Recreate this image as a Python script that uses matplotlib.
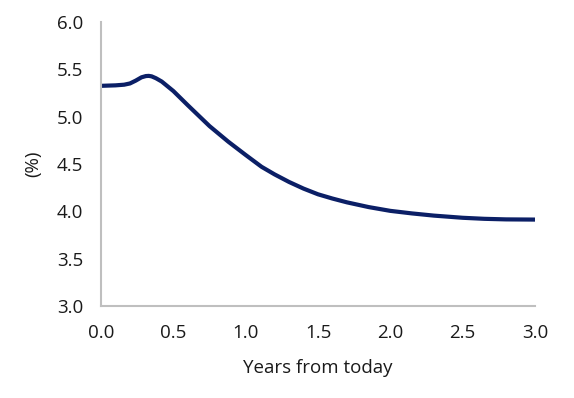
import matplotlib
matplotlib.use("Agg")
import matplotlib.pyplot as plt

# values
years = [0.0, 0.1, 0.16, 0.2, 0.24, 0.28, 0.31, 0.33, 0.35, 0.38, 0.42, 0.5, 0.6,
         0.75, 0.88, 1.0, 1.11, 1.2, 1.3, 1.4, 1.5, 1.6, 1.7, 1.85, 2.0, 2.15,
         2.3, 2.5, 2.65, 2.8, 3.0]
rate = [5.325, 5.33, 5.337, 5.35, 5.38, 5.415, 5.428, 5.43, 5.425, 5.405, 5.37, 5.27, 5.12,
        4.9, 4.735, 4.595, 4.47, 4.39, 4.31, 4.24, 4.18, 4.135, 4.095, 4.045, 4.005, 3.978,
        3.955, 3.932, 3.921, 3.915, 3.913]

x_ticks = [0.0, 0.5, 1.0, 1.5, 2.0, 2.5, 3.0]
y_ticks = [3.0, 3.5, 4.0, 4.5, 5.0, 5.5, 6.0]

plt.rcParams['font.family'] = ['Open Sans', 'DejaVu Sans']

fig = plt.figure(figsize=(5.74, 3.98), dpi=100)
ax = fig.add_axes([0.176, 0.231, 0.756, 0.714])

ax.plot(years, rate, color='#0b1f66', linewidth=3, solid_joinstyle='round')

ax.set_xlim(0, 3)
ax.set_ylim(3, 6)
ax.set_xticks(x_ticks)
ax.set_yticks(y_ticks)
ax.set_xticklabels([f"{v:.1f}" for v in x_ticks])
ax.set_yticklabels([f"{v:.1f}" for v in y_ticks])
ax.tick_params(length=0, labelsize=13.5, colors='#1a1a1a', pad=13)

for side in ['top', 'right']:
    ax.spines[side].set_visible(False)
for side in ['left', 'bottom']:
    ax.spines[side].set_color('#bfbfbf')
    ax.spines[side].set_linewidth(1.5)

ax.set_xlabel('Years from today', fontsize=13.5, color='#1a1a1a', labelpad=12)
ax.set_ylabel('(%)', fontsize=13.5, color='#1a1a1a', labelpad=10)

fig.savefig('out.png', dpi=100)
